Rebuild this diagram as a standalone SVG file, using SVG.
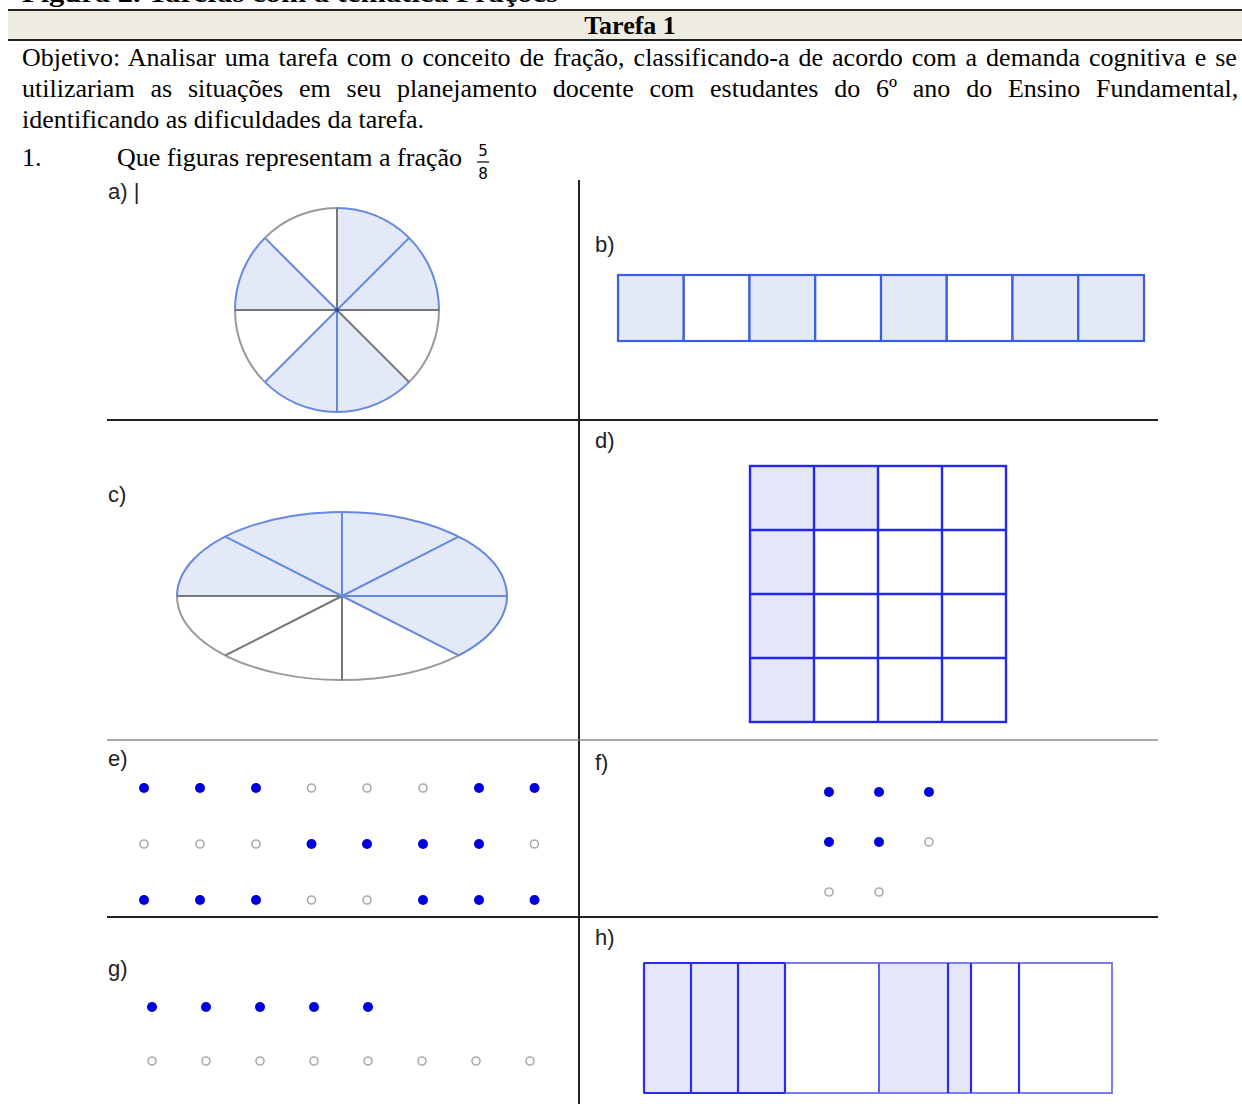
<svg xmlns="http://www.w3.org/2000/svg" width="1242" height="1104" viewBox="0 0 1242 1104">
<style>
.serif{font-family:"Liberation Serif","Times New Roman",serif;font-size:26px;fill:#000}
.lbl{font-family:"Liberation Sans",Arial,sans-serif;font-size:22px;fill:#222}
.frac{font-family:"DejaVu Sans","Liberation Sans",sans-serif;font-size:15px;fill:#000}
.rule{stroke:#222;stroke-width:2;fill:none}
.rulel{stroke:#8a8a8a;stroke-width:1.5;fill:none}
.sh1{fill:#e3e9f7;stroke:none}
.bl1{stroke:#6688e0;stroke-width:2;fill:none}
.gr1{stroke:#999;stroke-width:2;fill:none}
.grd{stroke:#777;stroke-width:2;fill:none}
.sqb{stroke:#3a5ee2;stroke-width:2.2}
.sqd{stroke:#2626ee;stroke-width:2.4}
.fill2{fill:#e6e6fa}
.on{fill:#0000dd}
.off{fill:#fff;stroke:#aaa;stroke-width:1.6}
</style>

<g id="header">
  <text class="serif" x="22" y="2" font-weight="bold" textLength="536" lengthAdjust="spacingAndGlyphs">Figura 2. Tarefas com a temática Frações</text>
  <rect x="8" y="10" width="1234" height="30" fill="#eeebe0"/>
  <line class="rule" x1="8" y1="10" x2="1242" y2="10"/>
  <line class="rule" x1="8" y1="40" x2="1242" y2="40"/>
  <text class="serif" x="630" y="34" font-weight="bold" text-anchor="middle">Tarefa 1</text>
</g>

<g id="objective">
  <text class="serif" x="22" y="66" word-spacing="2.5">Objetivo: Analisar uma tarefa com o conceito de fração, classificando-a de acordo com a demanda cognitiva e se</text>
  <text class="serif" x="22" y="97" word-spacing="9.3">utilizariam as situações em seu planejamento docente com estudantes do 6º ano do Ensino Fundamental,</text>
  <text class="serif" x="22" y="128">identificando as dificuldades da tarefa.</text>
  <text class="serif" x="22" y="166">1.</text>
  <text class="serif" x="117" y="166">Que figuras representam a fração</text>
  <text class="frac" x="483" y="156" text-anchor="middle">5</text>
  <line x1="477" y1="162" x2="489" y2="162" stroke="#000" stroke-width="1.2"/>
  <text class="frac" x="483" y="179" text-anchor="middle">8</text>
</g>

<g id="grid-lines">
  <line class="rule" x1="579" y1="180" x2="579" y2="1104"/>
  <line class="rule" x1="107" y1="420" x2="1158" y2="420"/>
  <line class="rulel" x1="107" y1="740" x2="1158" y2="740"/>
  <line class="rule" x1="107" y1="917" x2="1158" y2="917"/>
</g>

<g id="panel-a">
  <text class="lbl" x="108" y="199">a) |</text>
  <path class="sh1" d="M337,310 L439,310 A102,102 0 0 0 337,208 Z"/>
  <path class="sh1" d="M337,310 L264.9,237.9 A102,102 0 0 0 235,310 Z"/>
  <path class="sh1" d="M337,310 L264.9,382.1 A102,102 0 0 0 409.1,382.1 Z"/>
  <path class="gr1" d="M337,208 A102,102 0 0 0 264.9,237.9"/>
  <path class="gr1" d="M235,310 A102,102 0 0 0 264.9,382.1"/>
  <path class="gr1" d="M409.1,382.1 A102,102 0 0 0 439,310"/>
  <path class="bl1" d="M439,310 A102,102 0 0 0 337,208"/>
  <path class="bl1" d="M264.9,237.9 A102,102 0 0 0 235,310"/>
  <path class="bl1" d="M264.9,382.1 A102,102 0 0 0 409.1,382.1"/>
  <line class="grd" x1="337" y1="310" x2="337" y2="208"/>
  <line class="grd" x1="337" y1="310" x2="439" y2="310"/>
  <line class="grd" x1="337" y1="310" x2="235" y2="310"/>
  <line class="grd" x1="337" y1="310" x2="409.1" y2="382.1"/>
  <line class="bl1" x1="337" y1="310" x2="409.1" y2="237.9"/>
  <line class="bl1" x1="337" y1="310" x2="264.9" y2="237.9"/>
  <line class="bl1" x1="337" y1="310" x2="264.9" y2="382.1"/>
  <line class="bl1" x1="337" y1="310" x2="337" y2="412"/>
  <circle cx="337" cy="310" r="2" fill="#2244aa"/>
</g>

<g id="panel-b">
  <text class="lbl" x="595" y="252">b)</text>
  <g class="sqb">
    <rect x="618" y="275" width="65.75" height="66" fill="#e4e9f8"/>
    <rect x="683.75" y="275" width="65.75" height="66" fill="#fff"/>
    <rect x="749.5" y="275" width="65.75" height="66" fill="#e4e9f8"/>
    <rect x="815.25" y="275" width="65.75" height="66" fill="#fff"/>
    <rect x="881" y="275" width="65.75" height="66" fill="#e4e9f8"/>
    <rect x="946.75" y="275" width="65.75" height="66" fill="#fff"/>
    <rect x="1012.5" y="275" width="65.75" height="66" fill="#e4e9f8"/>
    <rect x="1078.25" y="275" width="65.75" height="66" fill="#e4e9f8"/>
  </g>
</g>

<g id="panel-c">
  <text class="lbl" x="108" y="502">c)</text>
  <path class="sh1" d="M342,596 L458.7,655.4 A165,84 0 1 0 177,596 Z"/>
  <path class="gr1" d="M177,596 A165,84 0 0 0 458.7,655.4"/>
  <path class="bl1" d="M458.7,655.4 A165,84 0 1 0 177,596"/>
  <line class="grd" x1="342" y1="596" x2="177" y2="596"/>
  <line class="grd" x1="342" y1="596" x2="225.3" y2="655.4"/>
  <line class="grd" x1="342" y1="596" x2="342" y2="680"/>
  <line class="bl1" x1="342" y1="596" x2="507" y2="596"/>
  <line class="bl1" x1="342" y1="596" x2="458.7" y2="536.6"/>
  <line class="bl1" x1="342" y1="596" x2="342" y2="512"/>
  <line class="bl1" x1="342" y1="596" x2="225.3" y2="536.6"/>
  <line class="bl1" x1="342" y1="596" x2="458.7" y2="655.4"/>
</g>

<g id="panel-d">
  <text class="lbl" x="595" y="448">d)</text>
  <rect class="fill2" x="750" y="466" width="128" height="64"/>
  <rect class="fill2" x="750" y="530" width="64" height="192"/>
  <g class="sqd" fill="none">
    <rect x="750" y="466" width="256" height="256"/>
    <line x1="814" y1="466" x2="814" y2="722"/>
    <line x1="878" y1="466" x2="878" y2="722"/>
    <line x1="942" y1="466" x2="942" y2="722"/>
    <line x1="750" y1="530" x2="1006" y2="530"/>
    <line x1="750" y1="594" x2="1006" y2="594"/>
    <line x1="750" y1="658" x2="1006" y2="658"/>
  </g>
</g>

<g id="panel-e">
  <text class="lbl" x="108" y="766">e)</text>
  <circle class="on" cx="144" cy="788" r="5"/>
  <circle class="on" cx="200" cy="788" r="5"/>
  <circle class="on" cx="256" cy="788" r="5"/>
  <circle class="off" cx="311.5" cy="788" r="4"/>
  <circle class="off" cx="367" cy="788" r="4"/>
  <circle class="off" cx="423" cy="788" r="4"/>
  <circle class="on" cx="479" cy="788" r="5"/>
  <circle class="on" cx="534.5" cy="788" r="5"/>
  <circle class="off" cx="144" cy="844" r="4"/>
  <circle class="off" cx="200" cy="844" r="4"/>
  <circle class="off" cx="256" cy="844" r="4"/>
  <circle class="on" cx="311.5" cy="844" r="5"/>
  <circle class="on" cx="367" cy="844" r="5"/>
  <circle class="on" cx="423" cy="844" r="5"/>
  <circle class="on" cx="479" cy="844" r="5"/>
  <circle class="off" cx="534.5" cy="844" r="4"/>
  <circle class="on" cx="144" cy="900" r="5"/>
  <circle class="on" cx="200" cy="900" r="5"/>
  <circle class="on" cx="256" cy="900" r="5"/>
  <circle class="off" cx="311.5" cy="900" r="4"/>
  <circle class="off" cx="367" cy="900" r="4"/>
  <circle class="on" cx="423" cy="900" r="5"/>
  <circle class="on" cx="479" cy="900" r="5"/>
  <circle class="on" cx="534.5" cy="900" r="5"/>
</g>

<g id="panel-f">
  <text class="lbl" x="595" y="770">f)</text>
  <circle class="on" cx="829" cy="792" r="5"/>
  <circle class="on" cx="879" cy="792" r="5"/>
  <circle class="on" cx="929" cy="792" r="5"/>
  <circle class="on" cx="829" cy="842" r="5"/>
  <circle class="on" cx="879" cy="842" r="5"/>
  <circle class="off" cx="929" cy="842" r="4"/>
  <circle class="off" cx="829" cy="892" r="4"/>
  <circle class="off" cx="879" cy="892" r="4"/>
</g>

<g id="panel-g">
  <text class="lbl" x="108" y="976">g)</text>
  <circle class="on" cx="152" cy="1007" r="5"/>
  <circle class="on" cx="206" cy="1007" r="5"/>
  <circle class="on" cx="260" cy="1007" r="5"/>
  <circle class="on" cx="314" cy="1007" r="5"/>
  <circle class="on" cx="368" cy="1007" r="5"/>
  <circle class="off" cx="152" cy="1061" r="4"/>
  <circle class="off" cx="206" cy="1061" r="4"/>
  <circle class="off" cx="260" cy="1061" r="4"/>
  <circle class="off" cx="314" cy="1061" r="4"/>
  <circle class="off" cx="368" cy="1061" r="4"/>
  <circle class="off" cx="422" cy="1061" r="4"/>
  <circle class="off" cx="476" cy="1061" r="4"/>
  <circle class="off" cx="530" cy="1061" r="4"/>
</g>

<g id="panel-h">
  <text class="lbl" x="595" y="945">h)</text>
  <rect class="fill2" x="644" y="963" width="141" height="130"/>
  <rect class="fill2" x="879" y="963" width="92" height="130"/>
  <rect x="644" y="963" width="468" height="130" fill="none" stroke="#7c7cf2" stroke-width="2"/>
  <g stroke="#2c2cee" stroke-width="2.2">
    <line x1="644" y1="963" x2="644" y2="1093"/>
    <line x1="644" y1="963" x2="785" y2="963"/>
    <line x1="644" y1="1093" x2="785" y2="1093"/>
    <line x1="691" y1="963" x2="691" y2="1093"/>
    <line x1="738" y1="963" x2="738" y2="1093"/>
    <line x1="785" y1="963" x2="785" y2="1093"/>
    <line x1="948" y1="963" x2="948" y2="1093"/>
    <line x1="971" y1="963" x2="971" y2="1093"/>
    <line x1="1019" y1="963" x2="1019" y2="1093"/>
  </g>
  <line x1="879" y1="963" x2="879" y2="1093" stroke="#6060f0" stroke-width="2"/>
</g>
</svg>
